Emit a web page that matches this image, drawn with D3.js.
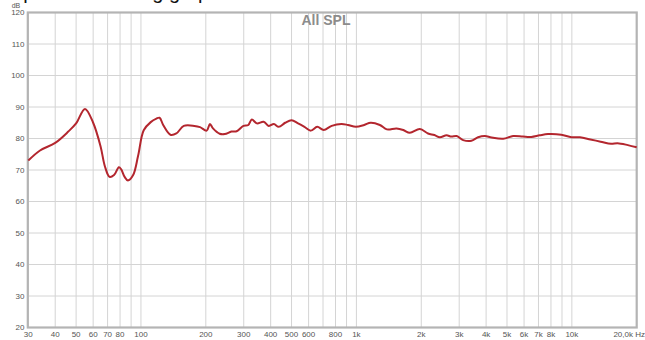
<!DOCTYPE html>
<html>
<head>
<meta charset="utf-8">
<script src="https://cdn.jsdelivr.net/npm/d3@7"></script>
<style>
  body { margin: 0; background: #fff; }
  svg { display: block; font-family: "Liberation Sans", Arial, sans-serif; }
</style>
</head>
<body>
<script>
// Measured response (Hz, dB)
const freqs = [30, 34, 40, 46, 50, 55, 60, 65, 68, 71.5, 75, 79, 81, 84, 87, 92, 97, 103, 111, 118, 122, 127, 137, 146, 158,
  177, 188, 202, 209, 216, 232, 245, 263, 278, 299, 315, 327, 345, 371, 392, 414, 436, 467, 500, 536, 574, 615, 658, 705,
  768, 852, 913, 995, 1087, 1165, 1285, 1385, 1535, 1650, 1770, 1970, 2150, 2300, 2440, 2620, 2760, 2920, 3130, 3420,
  3670, 3950, 4240, 4800, 5340, 5930, 6480, 7090, 7750, 8930, 9950, 10900, 12200, 13600, 15200, 16300, 18200, 20000];
const spl = [73.0, 76.2, 78.6, 82.2, 84.8, 89.4, 85.0, 77.4, 71.2, 67.8, 68.4, 70.9, 70.2, 67.8, 66.7, 68.4, 74.5, 82.6, 85.2, 86.3, 86.6, 84.2, 81.2, 81.6, 84.0,
  84.0, 83.6, 82.5, 84.6, 83.2, 81.5, 81.4, 82.2, 82.3, 84.0, 84.3, 86.0, 84.8, 85.3, 84.0, 84.6, 83.7, 85.0, 85.8, 84.8, 83.7, 82.5, 83.7, 82.7,
  84.0, 84.6, 84.3, 83.7, 84.3, 85.0, 84.3, 82.9, 83.2, 82.7, 81.8, 83.0, 81.6, 81.1, 80.4, 81.0, 80.6, 80.8, 79.5, 79.3,
  80.4, 80.8, 80.3, 79.9, 80.8, 80.6, 80.5, 81.0, 81.4, 81.2, 80.4, 80.4, 79.7, 79.0, 78.3, 78.5, 77.9, 77.2];

const yTicks = [20, 30, 40, 50, 60, 70, 80, 90, 100, 110, 120];
const xGrid = [30, 40, 50, 60, 70, 80, 90, 100, 200, 300, 400, 500, 600, 700, 800, 900,
  1000, 2000, 3000, 4000, 5000, 6000, 7000, 8000, 9000, 10000, 20000];
const xLabelVals = [30, 40, 50, 60, 70, 80, 100, 200, 300, 400, 500, 600, 800, 1000, 2000, 3000, 4000, 5000, 6000, 7000, 8000, 10000, 20000];
const xLabelText = ["30", "40", "50", "60", "70", "80", "100", "200", "300", "400", "500", "600", "800", "1k", "2k", "3k", "4k", "5k", "6k", "7k", "8k", "10k", "20,0k Hz"];

const width = 645, height = 340;
const x = d3.scaleLog().domain([30, 20000]).range([28.3, 636.7]);
const y = d3.scaleLinear().domain([20, 120]).range([327.5, 12.5]);

const svg = d3.select("body").append("svg")
  .attr("width", width)
  .attr("height", height);

// heading above the chart, cropped by the page edge
svg.append("text")
  .attr("x", 10).attr("y", -1)
  .attr("font-size", 20)
  .attr("fill", "#111")
  .text("Speaker listening graphs");

// grid
svg.append("g").selectAll("line")
  .data(xGrid)
  .join("line")
  .attr("x1", d => x(d)).attr("x2", d => x(d))
  .attr("y1", y(120)).attr("y2", y(20))
  .attr("stroke", "#d4d4d4").attr("stroke-width", 1);

svg.append("g").selectAll("line")
  .data(yTicks)
  .join("line")
  .attr("x1", x(30)).attr("x2", x(20000))
  .attr("y1", d => y(d)).attr("y2", d => y(d))
  .attr("stroke", "#d4d4d4").attr("stroke-width", 1);

// frame
svg.append("rect")
  .attr("x", x(30) - 0.5).attr("y", y(120))
  .attr("width", x(20000) - x(30) + 0.5).attr("height", y(20) - y(120))
  .attr("fill", "none")
  .attr("stroke", "#b4b4b4")
  .attr("stroke-width", 2.2);

// y labels
svg.append("g").selectAll("text")
  .data(yTicks)
  .join("text")
  .attr("x", 24.5).attr("y", d => y(d) + 2.5)
  .attr("text-anchor", "end")
  .attr("font-size", 8)
  .attr("fill", "#555")
  .text(d => d);

svg.append("text")
  .attr("x", 16).attr("y", 8)
  .attr("text-anchor", "middle")
  .attr("font-size", 7)
  .attr("fill", "#555")
  .text("dB");

// x labels
svg.append("g").selectAll("text")
  .data(xLabelVals)
  .join("text")
  .attr("x", (d, i) => i === xLabelVals.length - 1 ? 645 : x(d))
  .attr("y", 337)
  .attr("text-anchor", (d, i) => i === xLabelVals.length - 1 ? "end" : "middle")
  .attr("font-size", 8)
  .attr("fill", "#555")
  .text((d, i) => xLabelText[i]);

// title
svg.append("text")
  .attr("x", 326).attr("y", 25)
  .attr("text-anchor", "middle")
  .attr("font-size", 14)
  .attr("font-weight", "bold")
  .attr("fill", "#8c8c8c")
  .text("All SPL");

// curve
const line = d3.line()
  .x((d, i) => x(freqs[i]))
  .y(d => y(d))
  .curve(d3.curveCatmullRom.alpha(0.5));

svg.append("path")
  .datum(spl)
  .attr("fill", "none")
  .attr("stroke", "#b3262e")
  .attr("stroke-width", 2)
  .attr("d", line);
</script>
</body>
</html>
